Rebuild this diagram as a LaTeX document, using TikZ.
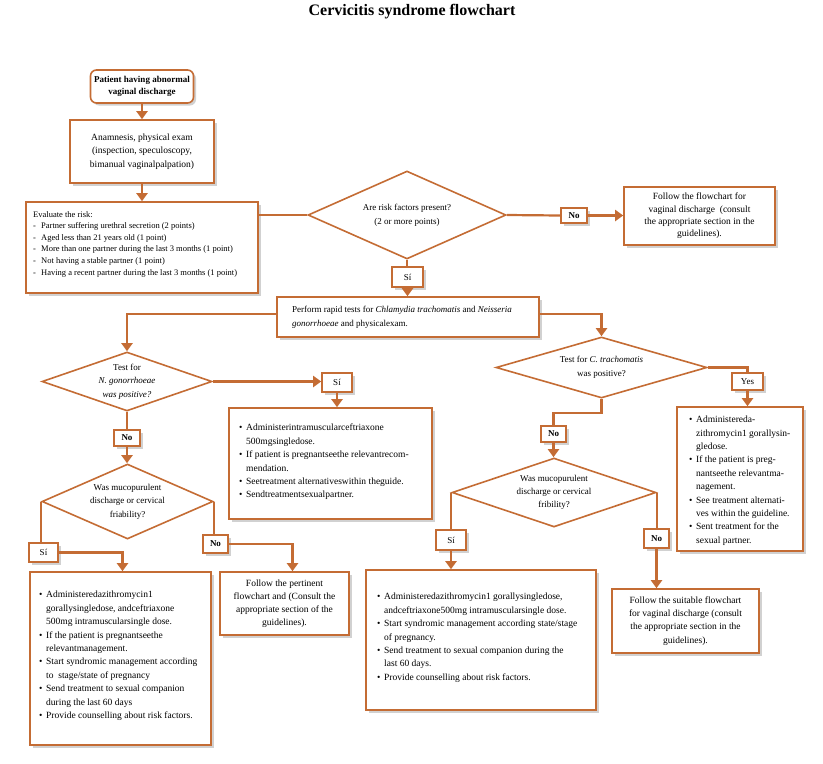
\documentclass[tikz,border=0pt]{standalone}
\usepackage{fontspec}
\setmainfont{Liberation Serif}
\usetikzlibrary{shapes.geometric,arrows.meta,shadows}
\definecolor{brn}{RGB}{196,108,52}
\newcommand{\bul}{\makebox[7pt][l]{\textbullet}}
\newcommand{\ind}{\hspace*{7pt}}
\begin{document}
\begin{tikzpicture}[x=1pt,y=-1pt,
  bx/.style={draw=brn, line width=1.6pt, fill=white, rectangle, inner sep=0pt,
    drop shadow={shadow xshift=2.5pt, shadow yshift=-2.5pt, opacity=0.3, fill=black!60}},
  dia/.style={diamond, draw=brn, line width=1.6pt, fill=white, inner sep=0pt, align=center,
    font=\fontsize{9}{13.5}\selectfont},
  lbl/.style={bx, font=\fontsize{9}{11}\selectfont},
  txt/.style={inner sep=0pt, anchor=north west, align=left, font=\fontsize{9.5}{13.4}\selectfont},
  ctr/.style={align=center, font=\fontsize{9.5}{13.3}\selectfont},
  arr/.style={draw=brn, line width=2.2pt, -{Triangle[width=11pt,length=8pt]}},
  ln/.style={draw=brn, line width=2.2pt}
]
\useasboundingbox (0,0) rectangle (823,764);

\node[font=\fontsize{16}{18}\selectfont\bfseries] (title) at (412,12) {Cervicitis syndrome flowchart};

% top chain
\node[bx, rounded corners=6pt, minimum width=103pt, minimum height=33pt, align=center,
  font=\fontsize{9}{12}\selectfont\bfseries] (start) at (142,86.5) {Patient having abnormal\\vaginal discharge};
\node[bx, ctr, minimum width=144pt, minimum height=63pt, font=\fontsize{9.5}{13.5}\selectfont] (anam) at (142,151.5)
  {Anamnesis, physical exam\\(inspection, speculoscopy,\\bimanual vaginalpalpation)};
\node[bx, minimum width=232pt, minimum height=91pt] (eval) at (142,247.5) {};
\node[txt, font=\fontsize{8.5}{11.6}\selectfont] (evalt) at (33,211)
  {Evaluate the risk:\\
   \makebox[8pt][l]{-}Partner suffering urethral secretion (2 points)\\
   \makebox[8pt][l]{-}Aged less than 21 years old (1 point)\\
   \makebox[8pt][l]{-}More than one partner during the last 3 months (1 point)\\
   \makebox[8pt][l]{-}Not having a stable partner (1 point)\\
   \makebox[8pt][l]{-}Having a recent partner during the last 3 months (1 point)};

\node[dia, minimum width=198pt, minimum height=88pt, shape aspect=2.25,
  font=\fontsize{9}{14}\selectfont] (dia1) at (407,215) {Are risk factors present?\\ (2 or more points)};
\node[lbl, minimum width=26pt, minimum height=15pt, font=\fontsize{9}{11}\selectfont\bfseries] (no1) at (574,215.5) {No};
\node[bx, ctr, minimum width=151pt, minimum height=58pt, font=\fontsize{9.5}{12.3}\selectfont] (fol1) at (699.5,216)
  {Follow the flowchart for\\vaginal discharge\ \ (consult\\the appropriate section in the\\guidelines).};
\node[lbl, minimum width=31pt, minimum height=20pt] (si1) at (407.5,277) {Sí};

\node[bx, minimum width=262pt, minimum height=40pt] (perf) at (408,317) {};
\node[txt, font=\fontsize{9}{13.5}\selectfont] (perft) at (292,306)
  {Perform rapid tests for \textit{Chlamydia trachomatis} and \textit{Neisseria}\\
   \textit{gonorrhoeae} and physicalexam.};

% left branch
\node[dia, minimum width=170pt, minimum height=59pt, shape aspect=2.9] (dia2) at (127,381.5)
  {Test for\\\textit{N. gonorrhoeae}\\\textit{was positive?}};
\node[lbl, minimum width=30pt, minimum height=19pt] (si2) at (337,382.5) {Sí};
\node[bx, minimum width=203pt, minimum height=111pt] (tx1) at (330.5,463.5) {};
\node[txt] (tx1t) at (239,424)
  {\bul Administerintramuscularceftriaxone\\
   \ind 500mgsingledose.\\
   \bul If patient is pregnantseethe relevantrecom-\\
   \ind mendation.\\
   \bul Seetreatment alternativeswithin theguide.\\
   \bul Sendtreatmentsexualpartner.};
\node[lbl, minimum width=26pt, minimum height=16pt, font=\fontsize{9}{11}\selectfont\bfseries] (no2) at (127,438) {No};
\node[dia, minimum width=171pt, minimum height=75pt, shape aspect=2.28] (dia3) at (127.5,501.5)
  {Was mucopurulent\\discharge or cervical\\friability?};
\node[lbl, minimum width=29pt, minimum height=19pt] (si3) at (43.5,552.5) {Sí};
\node[lbl, minimum width=25pt, minimum height=18pt, font=\fontsize{9}{11}\selectfont\bfseries] (no3) at (215.5,544) {No};
\node[bx, minimum width=181pt, minimum height=173pt] (tx2) at (120.5,658.5) {};
\node[txt] (tx2t) at (39,591)
  {\bul Administeredazithromycin1\\
   \ind gorallysingledose, andceftriaxone\\
   \ind 500mg intramuscularsingle dose.\\
   \bul If the patient is pregnantseethe\\
   \ind relevantmanagement.\\
   \bul Start syndromic management according\\
   \ind to\ \ stage/state of pregnancy\\
   \bul Send treatment to sexual companion\\
   \ind during the last 60 days\\
   \bul Provide counselling about risk factors.};
\node[bx, ctr, minimum width=129pt, minimum height=63pt, font=\fontsize{9.5}{13}\selectfont] (fol2) at (284.5,603.5)
  {Follow the pertinent\\flowchart and (Consult the\\appropriate section of the\\guidelines).};

% right branch
\node[dia, minimum width=211pt, minimum height=61pt, shape aspect=3.46] (dia4) at (601.5,367.5)
  {Test for \textit{C. trachomatis}\\was positive?};
\node[lbl, minimum width=31pt, minimum height=17pt] (yes) at (747.5,381.5) {Yes};
\node[bx, minimum width=126pt, minimum height=144pt] (tx4) at (740,479) {};
\node[txt] (tx4t) at (689,416)
  {\bul Administereda-\\
   \ind zithromycin1 gorallysin-\\
   \ind gledose.\\
   \bul If the patient is preg-\\
   \ind nantseethe relevantma-\\
   \ind nagement.\\
   \bul See treatment alternati-\\
   \ind ves within the guideline.\\
   \bul Sent treatment for the\\
   \ind sexual partner.};
\node[lbl, minimum width=25pt, minimum height=16pt, font=\fontsize{9}{11}\selectfont\bfseries] (no4) at (553.5,434) {No};
\node[dia, minimum width=204pt, minimum height=69pt, shape aspect=2.96, font=\fontsize{9}{13}\selectfont] (dia5) at (554,492.5)
  {Was mucopurulent\\discharge or cervical\\fribility?};
\node[lbl, minimum width=30pt, minimum height=20pt] (si5) at (451,540) {Sí};
\node[lbl, minimum width=25pt, minimum height=19pt, font=\fontsize{9}{11}\selectfont\bfseries] (no5) at (656.5,538.5) {No};
\node[bx, minimum width=230pt, minimum height=140pt] (tx3) at (481,640) {};
\node[txt] (tx3t) at (377,593)
  {\bul Administeredazithromycin1 gorallysingledose,\\
   \ind andceftriaxone500mg intramuscularsingle dose.\\
   \bul Start syndromic management according state/stage\\
   \ind of pregnancy.\\
   \bul Send treatment to sexual companion during the\\
   \ind last 60 days.\\
   \bul Provide counselling about risk factors.};
\node[bx, ctr, minimum width=147pt, minimum height=64pt] (fol3) at (685.5,621)
  {Follow the suitable flowchart\\for vaginal discharge (consult\\the appropriate section in the\\guidelines).};

% connectors
\draw[arr] (start.south) -- (anam.north);
\draw[arr] (anam.south) -- (eval.north);
\draw[ln] (eval.east |- dia1.west) -- (dia1.west);
\draw[ln] (dia1.east) -- (no1.west);
\draw[arr] (no1.east) -- (no1.east -| fol1.west);
\draw[ln] (dia1.south) -- (dia1.south |- si1.north);
\draw[arr] (si1.south) -- (si1.south |- perf.north);
\draw[arr] ([yshift=3pt]perf.west) -| (dia2.north);
\draw[arr] ([yshift=3pt]perf.east) -| (dia4.north);
\draw[arr] (dia2.east) -- (dia2.east -| si2.west);
\draw[arr] (si2.south) -- (si2.south |- tx1.north);
\draw[ln] (dia2.south) -- (no2.north);
\draw[arr] (no2.south) -- (no2.south |- dia3.north);
\draw[ln] (dia3.west) -- (dia3.west |- si3.north);
\draw[arr] (si3.east) -| ([xshift=2pt]tx2.north);
\draw[ln] (dia3.east) -- (dia3.east |- no3.north);
\draw[arr] (no3.east) -| ([xshift=8pt]fol2.north);
\draw[ln] (dia4.east) -| (yes.north);
\draw[arr] (yes.south) -- (yes.south |- tx4.north);
\draw[ln] (dia4.south) -- ++(0,14) -| (no4.north);
\draw[arr] (no4.south) -- (no4.south |- dia5.north);
\draw[ln] (dia5.west) -- (dia5.west |- si5.north);
\draw[arr] (si5.south) -- (si5.south |- tx3.north);
\draw[ln] (dia5.east) -- (dia5.east |- no5.north);
\draw[arr] (no5.south) -- (no5.south |- fol3.north);
\end{tikzpicture}
\end{document}
